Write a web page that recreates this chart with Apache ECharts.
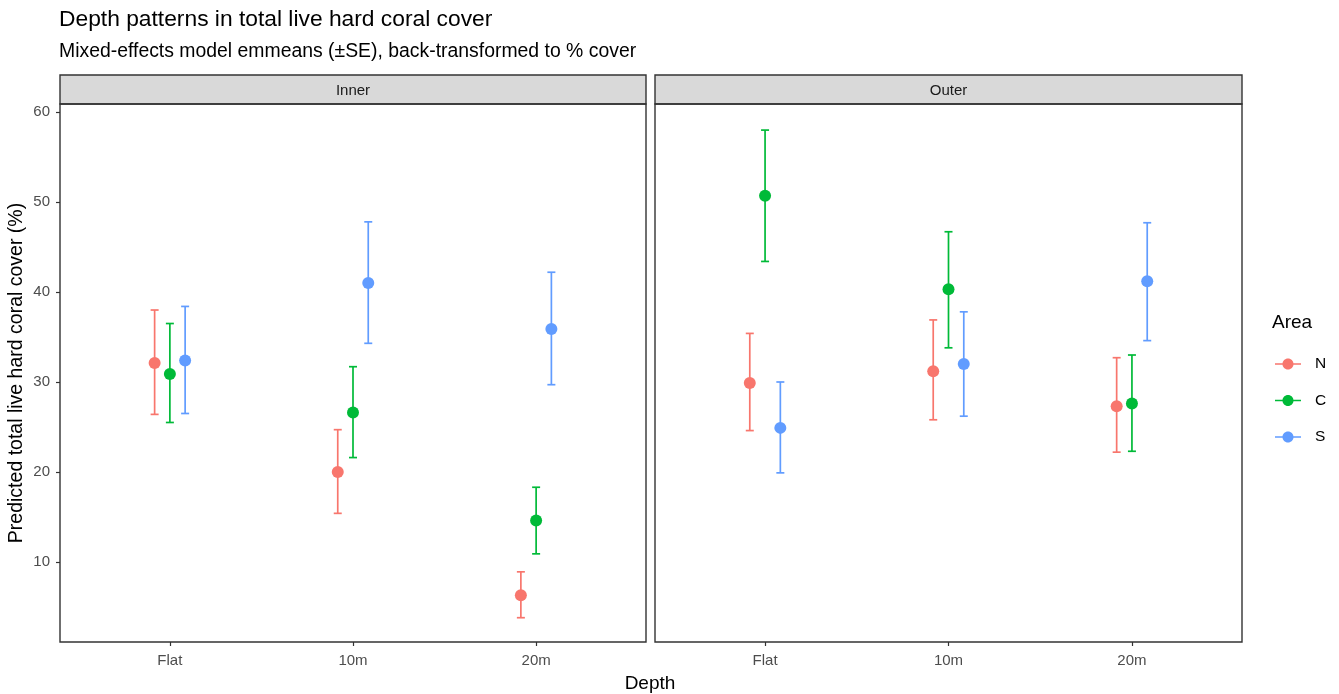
<!DOCTYPE html>
<html><head><meta charset="utf-8">
<script src="https://cdn.jsdelivr.net/npm/echarts@6/dist/echarts.min.js"></script>
<style>html,body{margin:0;padding:0;background:#fff}#c{width:1339px;height:694px}</style>
</head><body><div id="c"></div>
<script>
const depths = ['Flat', '10m', '20m'];
const areas = ['N', 'C', 'S'];
const panels = ['Inner', 'Outer'];
const yTicks = [10, 20, 30, 40, 50, 60];

// Inner panel: emmeans and ±SE limits (% cover)
const innerN_mean = [32.1, 20.0, 6.3];
const innerN_lo   = [26.4, 15.4, 3.8];
const innerN_hi   = [38.0, 24.7, 8.9];
const innerC_mean = [30.9, 26.6, 14.6];
const innerC_lo   = [25.5, 21.6, 10.9];
const innerC_hi   = [36.5, 31.7, 18.3];
const innerS_mean = [32.4, 41.0, 35.9];
const innerS_lo   = [26.5, 34.3, 29.7];
const innerS_hi   = [38.4, 47.8, 42.2];
// Outer panel
const outerN_mean = [29.9, 31.2, 27.3];
const outerN_lo   = [24.6, 25.8, 22.2];
const outerN_hi   = [35.4, 36.9, 32.7];
const outerC_mean = [50.7, 40.3, 27.6];
const outerC_lo   = [43.4, 33.8, 22.3];
const outerC_hi   = [58.0, 46.7, 33.0];
const outerS_mean = [24.9, 32.0, 41.2];
const outerS_lo   = [19.9, 26.2, 34.6];
const outerS_hi   = [30.0, 37.8, 47.7];

const tableData = {
  Inner: {N: [innerN_mean, innerN_lo, innerN_hi], C: [innerC_mean, innerC_lo, innerC_hi], S: [innerS_mean, innerS_lo, innerS_hi]},
  Outer: {N: [outerN_mean, outerN_lo, outerN_hi], C: [outerC_mean, outerC_lo, outerC_hi], S: [outerS_mean, outerS_lo, outerS_hi]}
};

const colors = {N: '#F8766D', C: '#00BA38', S: '#619CFF'};
const dodge = {N: -0.0833, C: 0, S: 0.0833};
const FONT = '"Liberation Sans", Arial, sans-serif';

const grids = [
  {left: 60, top: 104, width: 586, height: 538},
  {left: 655, top: 104, width: 587, height: 538}
];

const xAxes = [], yAxes = [], series = [];
panels.forEach((p, gi) => {
  xAxes.push({
    type: 'value', gridIndex: gi, min: 0.4, max: 3.6,
    splitLine: {show: false},
    axisLine: {show: false},
    axisTick: {show: true, length: 4, lineStyle: {color: '#333', width: 1.2}, customValues: [1, 2, 3]},
    axisLabel: {show: true, customValues: [1, 2, 3], formatter: v => depths[Math.round(v) - 1],
      color: '#4d4d4d', fontSize: 15, fontFamily: FONT, margin: 11}
  });
  yAxes.push({
    type: 'value', gridIndex: gi, min: 1.1, max: 60.9,
    splitLine: {show: false},
    axisLine: {show: false},
    axisTick: {show: gi === 0, length: 4, lineStyle: {color: '#333', width: 1.2}, customValues: yTicks},
    axisLabel: {show: gi === 0, customValues: yTicks, color: '#4d4d4d', fontSize: 15,
      fontFamily: FONT, margin: 10}
  });
  areas.forEach(a => {
    const [mean, lo, hi] = tableData[p][a];
    const errData = depths.map((d, i) => [i + 1 + dodge[a], lo[i], hi[i]]);
    const ptData = depths.map((d, i) => [i + 1 + dodge[a], mean[i]]);
    series.push({
      type: 'custom', name: a, xAxisIndex: gi, yAxisIndex: gi, z: 2,
      encode: {x: 0, y: [1, 2]},
      data: errData,
      renderItem: (params, api) => {
        const x = api.value(0);
        const top = api.coord([x, api.value(2)]);
        const bot = api.coord([x, api.value(1)]);
        const hw = 4;
        const st = {stroke: colors[a], lineWidth: 1.7};
        return {type: 'group', children: [
          {type: 'line', shape: {x1: top[0], y1: top[1], x2: bot[0], y2: bot[1]}, style: st},
          {type: 'line', shape: {x1: top[0] - hw, y1: top[1], x2: top[0] + hw, y2: top[1]}, style: st},
          {type: 'line', shape: {x1: bot[0] - hw, y1: bot[1], x2: bot[0] + hw, y2: bot[1]}, style: st}
        ]};
      },
      itemStyle: {color: colors[a]},
      silent: true
    });
    series.push({
      type: 'scatter', name: a, xAxisIndex: gi, yAxisIndex: gi, z: 3,
      symbol: 'circle', symbolSize: 12,
      itemStyle: {color: colors[a], opacity: 1},
      data: ptData
    });
  });
});

const graphics = [];
panels.forEach((p, gi) => {
  const g = grids[gi];
  graphics.push({type: 'rect', shape: {x: g.left, y: 75, width: g.width, height: 29},
    style: {fill: '#d9d9d9', stroke: '#333', lineWidth: 1.4}, z: 10});
  graphics.push({type: 'text', x: g.left + g.width / 2, y: 91,
    style: {text: p, fill: '#1a1a1a', font: '15px ' + FONT, textAlign: 'center', textVerticalAlign: 'middle'}, z: 11});
  graphics.push({type: 'rect', shape: {x: g.left, y: g.top, width: g.width, height: g.height},
    style: {fill: 'none', stroke: '#333', lineWidth: 1.4}, z: 10, silent: true});
});
graphics.push({type: 'text', x: 59, y: 20,
  style: {text: 'Depth patterns in total live hard coral cover', fill: '#000', font: '22.8px ' + FONT, textVerticalAlign: 'middle'}});
graphics.push({type: 'text', x: 59, y: 52,
  style: {text: 'Mixed-effects model emmeans (±SE), back-transformed to % cover', fill: '#000', font: '19.4px ' + FONT, textVerticalAlign: 'middle'}});
graphics.push({type: 'text', x: 650, y: 684,
  style: {text: 'Depth', fill: '#000', font: '19px ' + FONT, textAlign: 'center', textVerticalAlign: 'middle'}});
graphics.push({type: 'text', x: 17, y: 373, rotation: Math.PI / 2,
  style: {text: 'Predicted total live hard coral cover (%)', fill: '#000', font: '19.5px ' + FONT, textAlign: 'center', textVerticalAlign: 'middle'}});
graphics.push({type: 'text', x: 1272, y: 323,
  style: {text: 'Area', fill: '#000', font: '19px ' + FONT, textVerticalAlign: 'middle'}});

const legendIcon = 'path://M0,5 L26,5 L26,6.6 L0,6.6 Z M13,0.3 C16.1,0.3 18.5,2.7 18.5,5.8 C18.5,8.9 16.1,11.3 13,11.3 C9.9,11.3 7.5,8.9 7.5,5.8 C7.5,2.7 9.9,0.3 13,0.3 Z';

const chart = echarts.init(document.getElementById('c'), null, {renderer: 'canvas'});
chart.setOption({
  animation: false,
  backgroundColor: '#fff',
  grid: grids.map(g => Object.assign({containLabel: false}, g)),
  xAxis: xAxes,
  yAxis: yAxes,
  legend: {
    orient: 'vertical', left: 1270, top: 351,
    data: areas.map(a => ({name: a, icon: legendIcon, itemStyle: {color: colors[a]}})),
    itemWidth: 26, itemHeight: 12, itemGap: 20.5,
    textStyle: {fontSize: 15.5, color: '#000', fontFamily: FONT, padding: [0, 0, 0, 9]},
    selectedMode: false
  },
  graphic: graphics,
  series: series
});
</script>
</body></html>
